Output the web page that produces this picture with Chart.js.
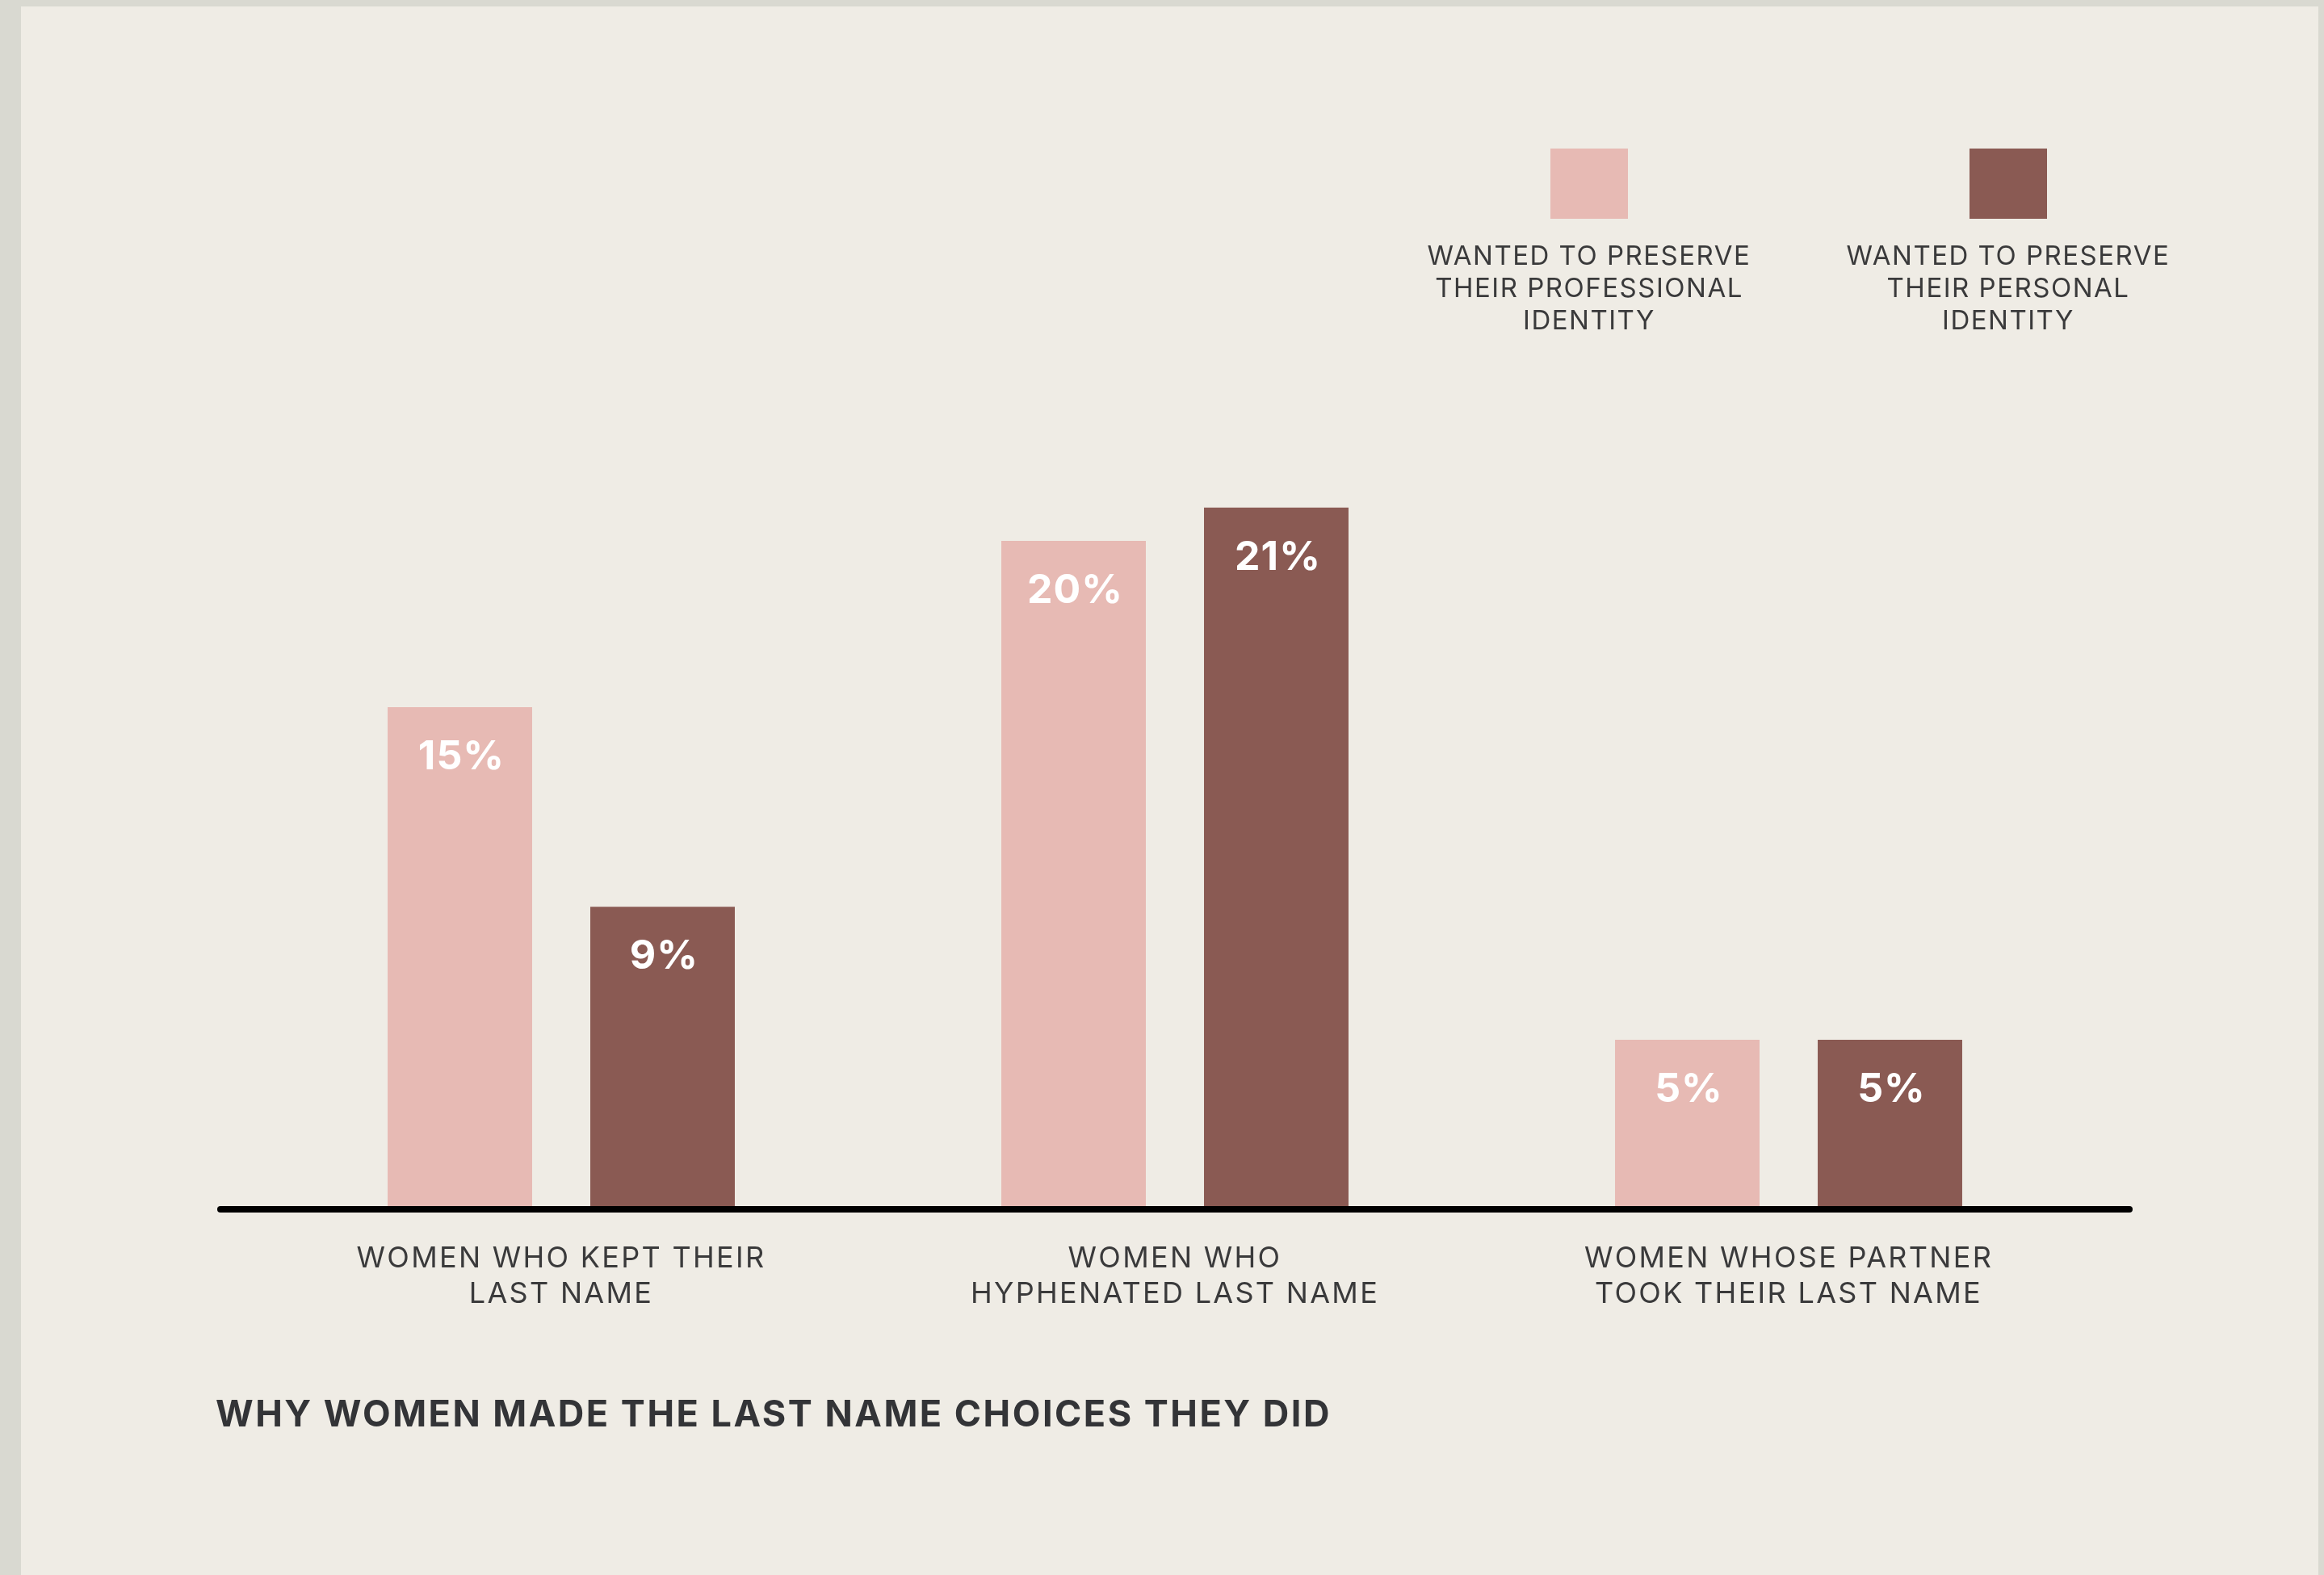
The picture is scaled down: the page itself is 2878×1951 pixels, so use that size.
<!DOCTYPE html>
<html>
<head>
<meta charset="utf-8">
<script src="https://cdn.jsdelivr.net/npm/chart.js@4.4.1/dist/chart.umd.min.js"></script>
<style>
  html, body { margin: 0; padding: 0; background: #d9d9d1; overflow: hidden; }
  canvas { display: block; }
</style>
</head>
<body>
<canvas id="chart" width="2878" height="1951" style="width:2878px;height:1951px"></canvas>
<script>
// ---- data ----
const categories = [
  ['WOMEN WHO KEPT THEIR', 'LAST NAME'],
  ['WOMEN WHO', 'HYPHENATED LAST NAME'],
  ['WOMEN WHOSE PARTNER', 'TOOK THEIR LAST NAME']
];
const seriesLabels = [
  ['WANTED TO PRESERVE', 'THEIR PROFESSIONAL', 'IDENTITY'],
  ['WANTED TO PRESERVE', 'THEIR PERSONAL', 'IDENTITY']
];
const professionalIdentity = [15, 20, 5];
const personalIdentity = [9, 21, 5];
const valueSuffix = '%';
const yMax = 25;
const chartTitle = 'WHY WOMEN MADE THE LAST NAME CHOICES THEY DID';

// ---- styles ----
const PINK = '#e7bab4';
const BROWN = '#8a5a53';
const INK = '#3a3a3b';
const FONT = 'Inter, "Open Sans", "Liberation Sans", sans-serif';

// page backdrop and panel
const backdrop = {
  id: 'backdrop',
  beforeDraw(chart) {
    const ctx = chart.ctx;
    ctx.save();
    ctx.fillStyle = '#d9d9d1';
    ctx.fillRect(0, 0, chart.width, chart.height);
    ctx.fillStyle = '#efece5';
    ctx.fillRect(26, 8, chart.width - 26 - 7, chart.height - 8);
    ctx.restore();
    // spaced capitals for the axis labels
    ctx.letterSpacing = '2.3px';
  }
};

// heavy rounded baseline under the bars
const baseline = {
  id: 'baseline',
  afterDatasetsDraw(chart) {
    const ctx = chart.ctx;
    const y = chart.scales.y.getPixelForValue(0) + 4;
    const { left, right } = chart.chartArea;
    ctx.save();
    ctx.strokeStyle = '#000000';
    ctx.lineWidth = 8;
    ctx.lineCap = 'round';
    ctx.beginPath();
    ctx.moveTo(left - 42, y);
    ctx.lineTo(right + 42, y);
    ctx.stroke();
    ctx.restore();
  }
};

// white value labels inside the top of each bar
const valueLabels = {
  id: 'valueLabels',
  afterDatasetsDraw(chart) {
    const ctx = chart.ctx;
    ctx.save();
    ctx.letterSpacing = '1px';
    ctx.fillStyle = '#ffffff';
    ctx.font = 'bold 50px ' + FONT;
    ctx.textAlign = 'center';
    ctx.textBaseline = 'alphabetic';
    chart.data.datasets.forEach((ds, i) => {
      chart.getDatasetMeta(i).data.forEach((bar, j) => {
        ctx.fillText(ds.data[j] + valueSuffix, bar.x + 2, bar.y + 77);
      });
    });
    ctx.restore();
  }
};

// legend swatches with stacked captions, and the title under the chart
const annotations = {
  id: 'annotations',
  afterDraw(chart) {
    const ctx = chart.ctx;
    const centers = [1968, 2487];
    ctx.save();
    ctx.letterSpacing = '1.5px';
    chart.data.datasets.forEach((ds, i) => {
      const cx = centers[i];
      ctx.fillStyle = ds.backgroundColor;
      ctx.fillRect(cx - 48, 184, 96, 87);
      ctx.fillStyle = INK;
      ctx.font = '33px ' + FONT;
      ctx.textAlign = 'center';
      ctx.textBaseline = 'alphabetic';
      seriesLabels[i].forEach((line, k) => {
        ctx.fillText(line, cx, 328 + k * 40);
      });
    });
    ctx.letterSpacing = '2.5px';
    ctx.fillStyle = '#333437';
    ctx.font = 'bold 45px ' + FONT;
    ctx.textAlign = 'left';
    ctx.fillText(chartTitle, 267, 1767);
    ctx.restore();
  }
};

new Chart(document.getElementById('chart'), {
  type: 'bar',
  data: {
    labels: categories,
    datasets: [
      { label: seriesLabels[0].join(' '), data: professionalIdentity, backgroundColor: PINK },
      { label: seriesLabels[1].join(' '), data: personalIdentity, backgroundColor: BROWN }
    ]
  },
  options: {
    responsive: false,
    devicePixelRatio: 1,
    animation: false,
    events: [],
    categoryPercentage: 0.6605,
    barPercentage: 0.713,
    layout: { padding: { left: 315, right: 283, top: 464, bottom: 307 } },
    plugins: {
      legend: { display: false },
      title: { display: false },
      tooltip: { enabled: false }
    },
    scales: {
      x: {
        grid: { display: false },
        border: { display: false },
        ticks: {
          color: INK,
          font: { family: FONT, size: 36, lineHeight: 1.2 },
          padding: 36,
          maxRotation: 0,
          autoSkip: false
        },
        afterFit(scale) { scale.height = 150; }
      },
      y: {
        display: false,
        min: 0,
        max: yMax
      }
    }
  },
  plugins: [backdrop, baseline, valueLabels, annotations]
});
</script>
</body>
</html>
